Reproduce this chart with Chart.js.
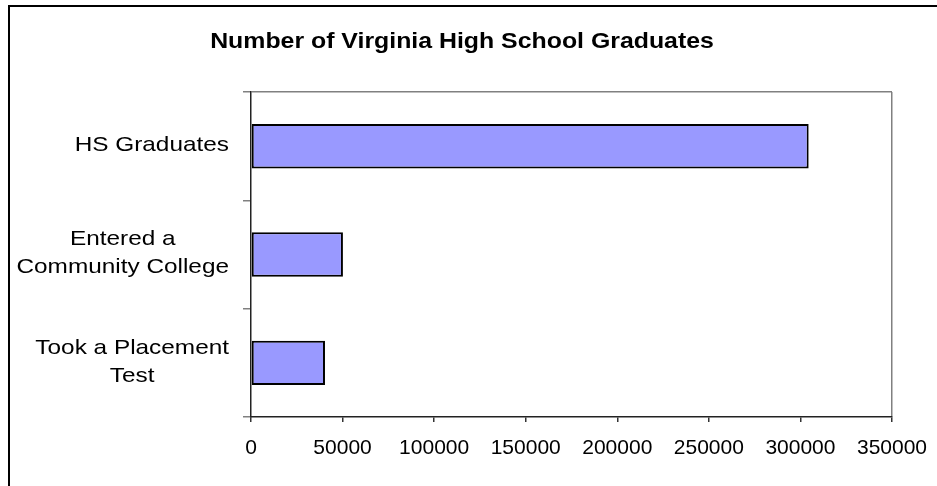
<!DOCTYPE html>
<html lang="en">
<head>
    <meta charset="UTF-8">
    <title>Number of Virginia High School Graduates</title>
    <style>
        html, body {
            margin: 0;
            padding: 0;
            background: #fff;
            overflow: hidden;
        }
        #wrap {
            position: relative;
            width: 937px;
            height: 486px;
        }
        /* outer frame, only left and top edges fall inside the page */
        #frame {
            position: absolute;
            left: 8px;
            top: 5px;
            width: 960px;
            height: 520px;
            border-left: 2px solid #000;
            border-top: 2px solid #000;
        }
        #chart {
            position: absolute;
            left: 0;
            top: 0;
        }
    </style>
    <script src="https://cdn.jsdelivr.net/npm/chart.js"></script>
</head>
<body>
<div id="wrap">
    <div id="frame"></div>
    <canvas id="chart" width="937" height="486"></canvas>
</div>

<script>
    const titleText = 'Number of Virginia High School Graduates';
    const categories = [
        ['HS Graduates'],
        ['Entered a', 'Community College'],
        ['Took a Placement', 'Test']
    ];
    const counts = [304500, 50200, 40400];
    const xMax = 350000;
    const xStep = 50000;

    const FONT = '"Liberation Sans", Arial, sans-serif';
    const Y_TICK_LEN = 8;
    const Y_LABEL_PAD = 14;

    // text in this chart is a little wider than the font, so stretch it sideways
    function drawWide(ctx, text, x, y, font, sx, align, baseline) {
        ctx.save();
        ctx.font = font;
        ctx.textAlign = align;
        ctx.textBaseline = baseline;
        ctx.translate(x, y);
        ctx.scale(sx, 1);
        ctx.fillText(text, 0, 0);
        ctx.restore();
    }

    const textPlugin = {
        id: 'wideText',
        afterDraw(chart) {
            const ctx = chart.ctx;
            const yScale = chart.scales.y;
            ctx.save();
            ctx.fillStyle = '#000';

            drawWide(ctx, titleText, 462, 48, 'bold 22px ' + FONT, 1.13, 'center', 'alphabetic');

            // category labels: block is right aligned, lines centred inside it
            const sx = 1.16;
            const labelFont = '21px ' + FONT;
            const right = yScale.right - Y_TICK_LEN - Y_LABEL_PAD;
            const lineH = 28;
            ctx.font = labelFont;
            categories.forEach((lines, i) => {
                const cy = yScale.getPixelForValue(i) - 1;
                const blockW = Math.max(...lines.map(l => ctx.measureText(l).width)) * sx;
                const cx = right - blockW / 2;
                const y0 = cy - (lines.length - 1) * lineH / 2;
                lines.forEach((line, j) => {
                    drawWide(ctx, line, cx, y0 + j * lineH, labelFont, sx, 'center', 'middle');
                });
            });
            ctx.restore();
        }
    };

    new Chart(document.getElementById('chart'), {
        type: 'bar',
        data: {
            labels: categories,
            datasets: [{
                data: counts,
                backgroundColor: '#9999ff',
                borderColor: '#000',
                borderWidth: 2,
                borderSkipped: false,
                categoryPercentage: 1.0,
                barPercentage: 0.41
            }]
        },
        options: {
            indexAxis: 'y',
            responsive: false,
            animation: false,
            layout: {
                padding: { top: 92, right: 45, bottom: 0, left: 0 }
            },
            plugins: {
                legend: { display: false },
                title: { display: false },
                tooltip: { enabled: false }
            },
            scales: {
                x: {
                    min: 0,
                    max: xMax,
                    afterFit(scale) {
                        scale.height = 69;
                        // last label fits inside the right padding
                        scale.paddingLeft = 0;
                        scale.paddingRight = 0;
                    },
                    ticks: {
                        stepSize: xStep,
                        padding: 14,
                        color: '#000',
                        font: { family: FONT, size: 21 },
                        callback: v => String(v)
                    },
                    grid: {
                        drawOnChartArea: true,
                        tickLength: 5,
                        tickColor: '#333',
                        lineWidth: 1.5,
                        color: ctx => (ctx.tick && ctx.tick.value === xMax) ? '#808080' : 'rgba(0,0,0,0)'
                    },
                    border: { color: '#222', width: 1.5 }
                },
                y: {
                    afterFit(scale) { scale.width = 251; },
                    ticks: { display: false },
                    grid: {
                        offset: true,
                        drawOnChartArea: true,
                        tickLength: Y_TICK_LEN,
                        tickColor: '#808080',
                        lineWidth: 1.5,
                        color: ctx => ctx.index === 0 ? '#808080' : 'rgba(0,0,0,0)'
                    },
                    border: { color: '#222', width: 1.5 }
                }
            }
        },
        plugins: [textPlugin]
    });
</script>
</body>
</html>
